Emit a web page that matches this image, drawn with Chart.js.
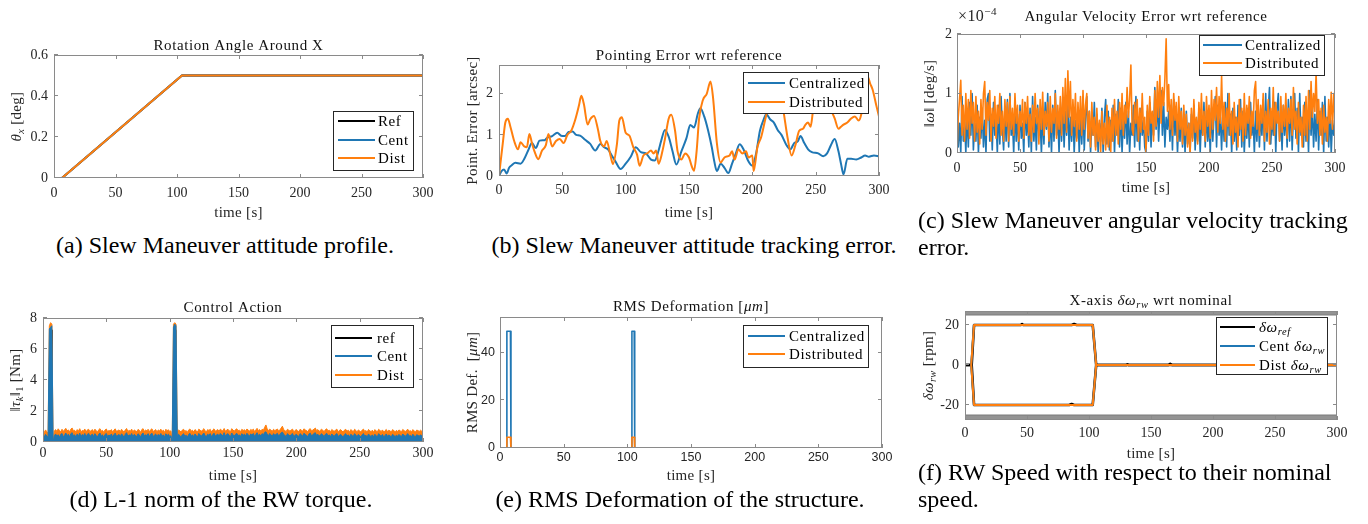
<!DOCTYPE html>
<html lang="en">
<head>
<meta charset="utf-8">
<title>Slew manoeuvre: centralized vs distributed control</title>
<script src="https://cdn.jsdelivr.net/npm/chart.js@4.4.1/dist/chart.umd.min.js"></script>
<style>
  html, body { margin: 0; padding: 0; background: #fff; }
  body { position: relative; width: 1368px; height: 524px; overflow: hidden;
         font-family: "Liberation Serif", "Times New Roman", serif; }
  canvas.plot { position: absolute; }
  .cap { position: absolute; font-size: 24px; line-height: 27px; color: #000; white-space: nowrap; }
  .cap.c { text-align: center; width: 600px; }
</style>
</head>
<body>
<canvas class="plot" id="figA"></canvas>
<canvas class="plot" id="figB"></canvas>
<canvas class="plot" id="figC"></canvas>
<canvas class="plot" id="figD"></canvas>
<canvas class="plot" id="figE"></canvas>
<canvas class="plot" id="figF"></canvas>

<div class="cap c" style="left:-75px;top:232px">(a) Slew Maneuver attitude profile.</div>
<div class="cap c" style="left:394px;top:232px">(b) Slew Maneuver attitude tracking error.</div>
<div class="cap" style="left:918px;top:207px">(c) Slew Maneuver angular velocity tracking<br>error.</div>
<div class="cap c" style="left:-79px;top:486px">(d) L-1 norm of the RW torque.</div>
<div class="cap c" style="left:380px;top:486px">(e) RMS Deformation of the structure.</div>
<div class="cap" style="left:918px;top:459px">(f) RW Speed with respect to their nominal<br>speed.</div>

<script>
// ---------------------------------------------------------------- data
const timeTicks = [0, 50, 100, 150, 200, 250, 300];

// (a) rotation angle about X [deg]
const angleTime = [0, 6.5, 104, 300];
const angleRef  = [0, 0, 0.5, 0.5];
const angleCent = [0, 0, 0.5, 0.5];
const angleDist = [0, 0, 0.5, 0.5];
const angleTicksY = [0, 0.2, 0.4, 0.6];

// (b) pointing error wrt reference [arcsec], [time, value]
const pointCent = [[0,0],[2,0.12],[4,0.16],[6,0.06],[8,0.2],[10,0.26],[13,0.32],[17,0.3],[20,0.42],[23,0.62],
  [26,0.8],[29,0.68],[32,0.86],[36,0.87],[38,0.93],[42,0.97],[46,1.05],[49,0.98],[52,0.97],[55,1.07],
  [58,1.08],[61,1.0],[64,0.98],[68,0.88],[72,0.78],[76,0.62],[80,0.78],[83,0.7],[86,0.65],[89,0.5],
  [92,0.35],[96,0.17],[100,0.3],[104,0.47],[108,0.7],[112,0.58],[116,0.55],[120,0.4],[123,0.38],[126,0.62],
  [128,0.85],[131,1.12],[134,0.95],[137,0.6],[140,0.28],[144,0.6],[148,0.92],[151,1.24],[154,1.18],[157,1.52],
  [159,1.65],[162,1.45],[165,1.12],[168,0.7],[170,0.35],[172,0.12],[175,0.3],[178,0.2],[181,0.07],[184,0.3],
  [187,0.55],[190,0.77],[193,0.65],[197,0.35],[200,0.25],[203,0.55],[206,1.1],[209,1.38],[211,1.5],[214,1.38],
  [217,1.3],[220,1.12],[223,1.0],[227,0.75],[230,0.65],[233,0.8],[236,0.85],[238,0.97],[241,0.8],[244,0.65],
  [247,0.58],[252,0.55],[256,0.48],[259,0.55],[262,0.75],[265,0.9],[268,0.6],[270,0.3],[272,0.04],[275,0.42],
  [278,0.42],[282,0.4],[286,0.45],[289,0.5],[292,0.47],[296,0.5],[300,0.48]];
const pointDist = [[0,0],[3,0.8],[5,1.3],[7,1.39],[9,1.2],[12,0.85],[15,0.65],[17,0.82],[20,0.72],[22,0.7],
  [24,1.02],[26,0.8],[28,0.6],[31,0.41],[34,0.62],[37,0.75],[39,1.02],[42,0.72],[45,0.85],[48,0.9],
  [51,0.8],[54,1.0],[57,1.1],[60,1.35],[63,1.7],[65,1.95],[67,1.75],[70,1.25],[72,1.38],[75,1.46],
  [78,1.15],[80,0.85],[83,0.72],[85,0.85],[88,0.5],[90,0.29],[93,0.75],[95,1.35],[97,1.43],[100,1.05],
  [103,0.98],[106,0.7],[109,0.52],[111,0.25],[114,0.5],[117,0.55],[120,0.62],[122,0.55],[124,0.62],[126,0.3],
  [129,0.6],[131,0.9],[134,1.4],[136,1.49],[139,1.1],[141,0.6],[144,0.4],[147,0.55],[150,0.45],[152,0.25],
  [154,0.13],[156,0.6],[158,1.4],[161,1.85],[164,2.0],[167,2.3],[169,1.9],[172,0.8],[175,0.33],[178,0.45],
  [182,0.5],[184,0.6],[186,0.4],[189,0.65],[192,0.55],[195,0.6],[197,0.45],[200,0.5],[201,0.12],[204,0.7],
  [207,0.95],[210,1.35],[213,1.75],[216,2.1],[219,2.3],[222,2.1],[225,1.5],[228,0.9],[231,0.5],[234,0.75],
  [237,1.1],[240,1.15],[242,1.25],[244,1.3],[246,1.2],[248,1.6],[251,1.9],[254,2.1],[257,1.95],[260,1.8],
  [263,1.55],[265,1.4],[268,1.15],[270,1.2],[272,1.25],[275,1.3],[278,1.4],[281,1.45],[284,1.35],[286,1.5],
  [288,1.9],[291,2.42],[293,2.25],[295,2.1],[298,1.7],[300,1.45]];
const pointTicksY = [0, 1, 2];

// (c) angular velocity error norm, in units of 1e-4 deg/s, one sample per second (t = 0..300)
const omegaErrCent = [
  0.9,0.1,0.5,0.0,0.95,0.2,0.6,0.0,0.7,0.1,0.85,0.3,1.0,0.05,0.5,0.2,0.8,0.0,0.6,0.25,
  0.75,0.1,0.55,0.0,0.9,1.0,0.2,0.65,0.05,0.85,0.3,0.6,0.0,0.8,0.15,0.95,0.4,0.05,0.7,0.2,
  0.9,0.1,1.0,0.3,0.55,0.0,0.75,0.2,0.65,0.05,0.8,0.25,0.5,0.0,0.85,0.3,0.6,0.1,0.75,0.0,
  0.95,0.2,0.6,0.05,0.8,0.3,0.55,0.0,0.7,0.15,0.85,0.4,1.0,0.1,0.65,0.0,0.8,0.2,1.05,0.3,
  0.6,0.0,0.75,0.2,0.9,0.1,0.7,0.3,0.85,0.05,0.6,0.2,0.8,0.0,0.55,0.25,0.7,0.0,0.65,0.15,
  0.8,0.05,0.6,0.95,0.2,0.7,0.0,0.55,0.3,0.85,0.1,0.65,0.0,0.5,0.2,0.75,0.0,0.6,0.9,0.15,
  0.7,0.05,0.55,0.2,0.8,0.0,0.65,0.3,0.9,0.1,0.75,0.0,0.6,0.25,0.85,0.15,0.7,0.0,0.5,0.3,
  0.8,0.1,0.95,0.2,0.6,0.05,0.75,0.3,0.55,0.1,0.0,0.7,0.2,0.85,0.1,0.65,0.3,1.1,0.4,0.9,
  0.2,0.75,1.05,0.3,0.85,0.1,0.6,0.4,0.7,0.2,0.8,0.05,0.9,0.3,0.65,0.0,0.55,0.2,0.75,0.1,
  0.6,0.0,0.7,0.15,0.5,0.0,0.65,0.25,0.8,0.05,0.55,0.2,0.75,0.0,0.6,0.3,0.85,0.1,0.7,0.2,
  0.55,0.0,0.75,0.2,0.65,0.95,0.1,0.8,0.3,0.6,0.05,0.7,0.2,0.85,0.1,1.0,0.3,0.65,0.0,0.75,
  0.2,0.6,0.05,0.8,0.3,0.9,0.1,0.7,0.0,0.55,0.25,0.75,0.1,0.85,0.3,0.6,0.0,0.7,0.2,0.8,
  0.1,0.65,0.3,0.9,0.05,1.0,0.2,0.7,1.1,0.15,0.6,0.3,0.85,0.0,0.75,1.0,0.2,0.6,0.05,0.8,
  0.3,0.7,0.1,0.9,0.2,0.95,0.05,0.65,1.0,0.25,0.75,0.0,1.0,0.3,0.6,0.1,0.85,0.2,0.7,0.0,
  1.05,0.3,0.8,0.1,0.65,0.2,0.9,0.05,0.7,0.3,0.85,0.0,0.95,0.2,0.6,0.1,0.75,0.0,0.55,0.3,
  0.55];
const omegaErrDist = [
  0.0,0.6,0.9,1.22,0.3,0.8,0.2,1.0,0.4,0.9,0.25,1.05,0.5,0.85,0.2,0.95,0.35,0.7,0.15,0.9,
  0.4,1.0,1.2,0.3,0.85,0.55,1.05,0.2,0.75,0.45,0.95,0.25,0.8,0.5,1.0,0.3,0.7,0.2,0.9,0.45,
  0.85,0.2,0.95,0.4,0.75,0.3,1.0,0.5,0.8,0.2,0.7,0.45,0.9,0.25,0.85,0.5,0.95,0.3,0.65,0.2,
  0.8,0.35,1.0,0.5,0.75,0.15,0.9,0.4,1.02,0.3,0.7,0.45,0.85,0.2,0.95,0.35,0.75,0.5,1.0,0.25,
  0.8,0.4,0.95,0.3,1.1,0.5,1.25,0.35,1.38,0.6,1.2,0.3,0.9,0.45,1.0,0.2,0.85,0.4,0.95,0.3,
  1.05,0.4,0.8,1.0,0.25,0.7,0.1,0.85,0.3,0.6,0.05,0.75,0.2,0.55,0.0,0.7,0.15,0.5,0.05,0.8,
  0.1,0.6,0.0,0.75,0.2,0.9,0.3,0.7,0.15,0.85,0.4,1.0,0.3,0.8,0.5,1.1,0.6,0.9,1.48,0.4,
  0.3,0.85,0.5,0.9,0.2,0.75,0.35,1.0,0.4,0.6,0.0,0.8,0.3,0.95,0.5,0.7,0.2,1.05,0.45,1.2,
  0.6,1.3,0.5,1.1,0.8,1.25,1.92,0.7,1.15,0.4,0.9,0.3,1.0,0.55,0.85,0.2,0.95,0.4,0.7,0.15,
  0.8,0.3,0.65,0.1,0.5,0.0,0.75,0.2,0.9,0.35,0.6,0.15,0.85,0.4,1.0,0.3,0.7,0.2,0.95,0.45,
  0.8,0.25,1.05,0.4,0.9,0.55,1.1,0.35,0.95,0.5,1.3,0.4,0.85,0.2,0.75,0.45,1.0,0.3,0.7,0.15,
  0.85,0.35,0.6,0.1,0.9,0.4,0.75,0.2,1.0,0.3,0.8,0.5,0.95,0.25,0.7,0.45,1.05,1.2,0.4,0.9,
  0.3,0.8,0.5,1.0,0.2,0.7,0.35,0.9,0.15,0.75,0.4,1.1,0.3,0.85,0.5,0.7,0.2,0.95,0.35,0.8,
  0.45,1.0,0.25,0.75,0.5,0.9,0.3,1.1,0.4,0.7,0.15,0.85,0.35,0.6,0.1,0.8,0.3,0.95,0.2,1.05,
  0.4,1.2,0.6,1.0,0.7,1.35,0.5,0.9,0.3,0.75,0.15,0.8,0.35,0.6,0.2,0.9,0.5,1.02,0.4,1.0,
  0.6];
const omegaTicksY = [0, 1, 2];

// (d) L-1 norm of the wheel torques [Nm], one sample per second (t = 0..300)
const torqueCent = [
  .45,.32,.50,.38,.30,7.3,7.4,7.5,0,.40,.52,.36,.47,.30,.49,.55,.34,.43,.58,.40,
  .50,.33,.54,.60,.39,.46,.31,.52,.37,.57,.34,.48,.41,.55,.32,.49,.56,.36,.44,.51,
  .35,.54,.42,.33,.50,.58,.38,.46,.30,.49,.55,.35,.45,.40,.52,.32,.47,.57,.37,.42,
  .49,.34,.53,.43,.30,.50,.60,.36,.46,.40,.55,.33,.49,.42,.35,.53,.46,.31,.50,.58,
  .38,.47,.41,.54,.34,.50,.57,.36,.44,.52,.33,.49,.40,.55,.37,.46,.31,.53,.42,.50,
  .36,.40,0,7.4,7.6,7.5,.34,.50,.42,.33,.47,.54,.36,.44,.30,.49,.56,.38,.46,.35,
  .52,.42,.33,.55,.46,.37,.49,.58,.40,.35,.50,.43,.54,.34,.47,.57,.38,.45,.51,.36,
  .55,.46,.40,.60,.37,.49,.54,.42,.34,.58,.47,.38,.50,.56,.41,.46,.36,.54,.43,.50,
  .40,.56,.47,.37,.52,.44,.55,.36,.49,.60,.42,.50,.38,.54,.46,.62,.66,.50,.42,.55,
  .46,.37,.54,.43,.49,.56,.40,.47,.59,.64,.50,.42,.36,.54,.46,.38,.49,.55,.35,.44,
  .50,.40,.36,.54,.46,.38,.56,.49,.43,.35,.52,.57,.40,.47,.55,.60,.42,.50,.37,.46,
  .54,.43,.36,.50,.56,.39,.46,.34,.52,.42,.37,.49,.55,.35,.44,.50,.39,.33,.47,.54,
  .38,.46,.32,.50,.42,.36,.54,.44,.35,.49,.39,.33,.47,.55,.37,.43,.34,.52,.40,.36,
  .46,.32,.50,.39,.35,.54,.43,.37,.49,.33,.41,.52,.36,.46,.39,.34,.50,.42,.35,.44,
  .37,.49,.40,.34,.52,.43,.36,.46,.54,.38,.42,.35,.50,.39,.33,.47,.43,.37,.46,.40,
  .35];
const torqueDist = [
  .70,.62,.78,.66,.55,7.5,7.7,7.6,0,.72,.80,.68,.85,.74,.66,.82,.70,.77,.88,.72,
  .78,.65,.83,.90,.72,.76,.62,.80,.70,.86,.66,.75,.71,.84,.64,.78,.82,.68,.73,.80,
  .66,.83,.72,.64,.79,.86,.70,.75,.62,.78,.84,.67,.74,.71,.80,.63,.77,.85,.69,.73,
  .78,.66,.82,.73,.62,.79,.87,.68,.75,.70,.83,.64,.78,.72,.67,.81,.76,.62,.80,.86,
  .69,.77,.72,.82,.66,.79,.85,.68,.74,.80,.64,.78,.71,.83,.69,.76,.62,.82,.73,.79,
  .68,.72,0,7.6,7.7,7.6,.66,.78,.73,.64,.77,.82,.68,.74,.62,.78,.84,.70,.76,.66,
  .80,.73,.64,.83,.76,.69,.78,.86,.71,.66,.80,.74,.82,.65,.77,.85,.70,.75,.80,.68,
  .83,.76,.71,.87,.69,.78,.82,.73,.66,.86,.77,.70,.80,.85,.72,.76,.68,.82,.74,.79,
  .71,.84,.77,.69,.81,.75,.83,.68,.78,.88,.73,.80,.70,.82,.76,.95,1.10,.84,.74,.83,
  .76,.69,.82,.74,.78,.84,.71,.77,.90,1.02,.80,.73,.68,.82,.76,.70,.78,.83,.66,.75,
  .80,.72,.67,.82,.76,.70,.85,.78,.74,.66,.81,.86,.71,.77,.83,.90,.73,.80,.68,.76,
  .82,.74,.67,.80,.85,.71,.76,.65,.81,.73,.69,.78,.83,.66,.75,.80,.71,.64,.77,.82,
  .70,.76,.63,.80,.73,.67,.82,.75,.66,.78,.71,.64,.77,.83,.68,.74,.65,.81,.72,.67,
  .76,.63,.80,.71,.66,.82,.74,.68,.78,.64,.73,.81,.67,.76,.71,.65,.80,.73,.66,.75,
  .68,.78,.72,.65,.81,.74,.67,.76,.82,.69,.73,.66,.80,.71,.64,.77,.74,.68,.76,.70,
  .66];
const torqueRef = [[0,0],[5.4,0],[5.8,7.2],[6.6,7.2],[7,0],[103.4,0],[103.8,7.2],[104.6,7.2],[105,0],[300,0]];
const torqueTicksY = [0, 2, 4, 6, 8];

// (e) RMS deformation [um]
const defTime = [0, 5.0, 5.4, 8.2, 8.6, 103.2, 103.6, 105.4, 105.8, 300];
const defCent = [0, 0, 49, 49, 0, 0, 49, 49, 0, 0];
const defDist = [0, 0, 4.5, 4.5, 0, 0, 4.5, 4.5, 0, 0];
const defTicksY = [0, 20, 40];

// (f) X-axis wheel speed deviation wrt nominal [rpm], two wheels (up / down)
const rwRefUp   = [[0,0],[5.4,0],[7.3,20],[45,20],[46,20.5],[47,20],[86,20],[88,20.5],[90,20],[103,20],[105.8,0],
                   [130,0],[131,0.3],[132,0],[164,0],[165.5,0.6],[167,0],[300,0]];
const rwRefDown = [[0,0],[5.4,0],[7.3,-20],[84,-20],[86,-19.5],[88,-20],[103,-20],[105.8,0],[300,0]];
const rwCentUp   = [[5,0],[5.4,0],[7.3,20],[103,20],[105.8,0],[300,0]];
const rwCentDown = [[5,0],[5.4,0],[7.3,-20],[103,-20],[105.8,0],[300,0]];
const rwDistUp   = [[5,0],[5.4,0],[7.3,20],[103,20],[105.8,0],[300,0]];
const rwDistDown = [[5,0],[5.4,0],[7.3,-20],[103,-20],[105.8,0],[300,0]];
const rwSaturation = 25;
const rwTicksY = [-20, 0, 20];

// ---------------------------------------------------------------- style
const BLUE = '#1f77b4', ORANGE = '#ff7f0e', BLACK = '#000000';
const SERIF = '"Liberation Serif", "Times New Roman", serif';
const SANS  = '"Liberation Sans", Arial, sans-serif';
const AXIS_GRAY = '#8a8a8a', TEXT_GRAY = '#262626', TICK = 4;

const fromPairs  = p => p.map(([x, y]) => ({ x, y }));
const fromXY     = (xs, ys) => xs.map((x, i) => ({ x, y: ys[i] }));
const perSecond  = v => v.map((y, i) => ({ x: i, y }));

// draws text made of [string, style] pieces: style 'i' italic, 'b' subscript, 'p' superscript
function drawRich(ctx, spec, x, y, size, o = {}) {
  const segs = typeof spec === 'string' ? [[spec, '']] : spec;
  const family = o.family || SERIF;
  ctx.save();
  ctx.fillStyle = o.color || '#000';
  ctx.textAlign = 'left';
  ctx.textBaseline = 'alphabetic';
  if ('letterSpacing' in ctx) ctx.letterSpacing = (o.ls ?? 0.5) + 'px';
  const parts = segs.map(([t, st = '']) => {
    const small = st.includes('b') || st.includes('p');
    const fs = small ? size * 0.7 : size;
    const font = (st.includes('i') ? 'italic ' : '') + fs + 'px ' + family;
    ctx.font = font;
    return { t, font, w: ctx.measureText(t).width,
             dy: st.includes('b') ? size * 0.22 : st.includes('p') ? -size * 0.42 : 0 };
  });
  const total = parts.reduce((s, p) => s + p.w, 0);
  let cx = o.align === 'left' ? x : o.align === 'right' ? x - total : x - total / 2;
  const base = y + size * 0.33;
  for (const p of parts) { ctx.font = p.font; ctx.fillText(p.t, cx, base + p.dy); cx += p.w; }
  ctx.restore();
}

// MATLAB-like axes: box, inward ticks on four sides, labels, title, boxed legend
function axesPlugin(o) {
  return {
    id: 'matlabAxes',
    afterDatasetsDraw(chart) {
      const ctx = chart.ctx, a = chart.chartArea, xs = chart.scales.x, ys = chart.scales.y;
      ctx.save();
      ctx.strokeStyle = AXIS_GRAY; ctx.lineWidth = 1;
      ctx.strokeRect(a.left + 0.5, a.top + 0.5, a.right - a.left - 1, a.bottom - a.top - 1);
      ctx.beginPath();
      for (const t of xs.ticks) {
        const px = Math.round(xs.getPixelForValue(t.value)) + 0.5;
        ctx.moveTo(px, a.bottom); ctx.lineTo(px, a.bottom - TICK);
        ctx.moveTo(px, a.top); ctx.lineTo(px, a.top + TICK);
      }
      for (const t of ys.ticks) {
        const py = Math.round(ys.getPixelForValue(t.value)) - 0.5;
        ctx.moveTo(a.left, py); ctx.lineTo(a.left + TICK, py);
        ctx.moveTo(a.right, py); ctx.lineTo(a.right - TICK, py);
      }
      ctx.stroke();

      // tick labels
      ctx.fillStyle = TEXT_GRAY;
      ctx.font = o.tickFont;
      ctx.textBaseline = 'middle';
      ctx.textAlign = 'center';
      for (const t of xs.ticks) ctx.fillText(String(t.value), xs.getPixelForValue(t.value), a.bottom + o.xTickGap);
      ctx.textAlign = 'right';
      for (const t of ys.ticks) ctx.fillText(String(t.value), a.left - o.yTickGap, ys.getPixelForValue(t.value));

      // axis titles and plot title
      const midX = (a.left + a.right) / 2, midY = (a.top + a.bottom) / 2;
      drawRich(ctx, o.xTitle, midX, a.bottom + o.xTitleGap, 15, { color: TEXT_GRAY, ls: 0.3 });
      ctx.save();
      ctx.translate(a.left - o.yTitleGap, midY);
      ctx.rotate(-Math.PI / 2);
      drawRich(ctx, o.yTitle, 0, 0, 15, { color: TEXT_GRAY, ls: 0.3 });
      ctx.restore();
      drawRich(ctx, o.title, midX, a.top - o.titleGap, 15, { color: '#111', ls: 0.6 });
      if (o.exponent) drawRich(ctx, o.exponent, a.left + 1, a.top - o.titleGap, 16, { align: 'left', color: TEXT_GRAY, ls: 0.4 });

      // legend
      const L = o.legend;
      if (L) {
        const bx = Math.round(a.right - L.right - L.w), by = Math.round(a.top + L.top);
        ctx.fillStyle = '#fff';
        ctx.fillRect(bx, by, L.w, L.h);
        ctx.strokeStyle = '#262626'; ctx.lineWidth = 1;
        ctx.strokeRect(bx + 0.5, by + 0.5, L.w, L.h);
        L.items.forEach((it, i) => {
          const y = by + L.rows[i];
          ctx.strokeStyle = chart.data.datasets[it.ds].borderColor;
          ctx.lineWidth = 2;
          ctx.beginPath(); ctx.moveTo(bx + L.s0, y); ctx.lineTo(bx + L.s1, y); ctx.stroke();
          drawRich(ctx, it.text, bx + L.tx, y, 15, { align: 'left', color: '#000', ls: 0.6 });
        });
      }
      ctx.restore();
    }
  };
}

function makeChart(id, frame, datasets, o) {
  const cv = document.getElementById(id);
  const W = frame.R - frame.L, H = frame.B - frame.T;
  cv.width = W + 90; cv.height = H + 90;
  cv.style.left = (frame.L - 70) + 'px';
  cv.style.top = (frame.T - 45) + 'px';
  cv.style.width = cv.width + 'px';
  cv.style.height = cv.height + 'px';
  return new Chart(cv, {
    type: 'line',
    data: { datasets },
    options: {
      responsive: false, animation: false, events: [],
      layout: { padding: { left: 0, top: 45, right: 20, bottom: 0 } },
      elements: { point: { radius: 0 }, line: { tension: 0, borderJoinStyle: 'round' } },
      scales: {
        x: { type: 'linear', min: 0, max: 300,
             ticks: { display: false }, grid: { display: false }, border: { display: false },
             afterBuildTicks: s => { s.ticks = timeTicks.map(v => ({ value: v })); },
             afterFit: s => { s.height = 45; } },
        y: { type: 'linear', min: o.yMin, max: o.yMax,
             ticks: { display: false }, grid: { display: false }, border: { display: false },
             afterBuildTicks: s => { s.ticks = o.yTicks.map(v => ({ value: v })); },
             afterFit: s => { s.width = 70; } }
      },
      plugins: { legend: { display: false }, tooltip: { enabled: false } }
    },
    plugins: [axesPlugin(o)]
  });
}

const line = (data, color, width, order, extra = {}) =>
  Object.assign({ data, borderColor: color, backgroundColor: color, borderWidth: width, order, fill: false }, extra);

const serifTicks = '14px ' + SERIF;
const timeLabel = 'time [s]';

// (a)
makeChart('figA', { L: 54, T: 55, R: 423, B: 178 }, [
  line(fromXY(angleTime, angleRef), BLACK, 2, 2),
  line(fromXY(angleTime, angleCent), BLUE, 2, 1),
  line(fromXY(angleTime, angleDist), ORANGE, 2, 0)
], {
  yMin: 0, yMax: 0.6, yTicks: angleTicksY, tickFont: serifTicks,
  xTickGap: 15, xTitleGap: 34, yTickGap: 6, yTitleGap: 38, titleGap: 10,
  title: 'Rotation Angle Around X', xTitle: timeLabel,
  yTitle: [['θ', 'i'], ['x', 'ib'], [' [deg]', '']],
  legend: { right: 10, top: 56, w: 80, h: 59, rows: [10, 29, 47], s0: 5, s1: 42, tx: 45,
            items: [{ ds: 0, text: 'Ref' }, { ds: 1, text: 'Cent' }, { ds: 2, text: 'Dist' }] }
});

// (b)
makeChart('figB', { L: 499, T: 65, R: 879, B: 176 }, [
  line(fromPairs(pointCent), BLUE, 2, 1, { cubicInterpolationMode: 'monotone' }),
  line(fromPairs(pointDist), ORANGE, 2, 0, { cubicInterpolationMode: 'monotone' })
], {
  yMin: 0, yMax: 2.7, yTicks: pointTicksY, tickFont: serifTicks,
  xTickGap: 14, xTitleGap: 36, yTickGap: 6, yTitleGap: 27, titleGap: 10,
  title: 'Pointing Error wrt reference', xTitle: timeLabel, yTitle: 'Point. Error [arcsec]',
  legend: { right: 11, top: 7, w: 125, h: 41, rows: [11, 30], s0: 5, s1: 42, tx: 46,
            items: [{ ds: 0, text: 'Centralized' }, { ds: 1, text: 'Distributed' }] }
});

// (c)
makeChart('figC', { L: 957, T: 34, R: 1335, B: 153 }, [
  line(perSecond(omegaErrCent), BLUE, 1.6, 1),
  line(perSecond(omegaErrDist), ORANGE, 1.6, 0)
], {
  yMin: 0, yMax: 2, yTicks: omegaTicksY, tickFont: serifTicks,
  xTickGap: 15, xTitleGap: 34, yTickGap: 5, yTitleGap: 28, titleGap: 18,
  title: 'Angular Velocity Error wrt reference', xTitle: timeLabel,
  yTitle: [['‖', ''], ['ω', 'i'], ['‖ [deg/s]', '']],
  exponent: [['×10', ''], ['−4', 'p']],
  legend: { right: 11, top: 1, w: 125, h: 40, rows: [10, 28], s0: 4, s1: 43, tx: 46,
            items: [{ ds: 0, text: 'Centralized' }, { ds: 1, text: 'Distributed' }] }
});

// (d)
makeChart('figD', { L: 43, T: 318, R: 423, B: 442 }, [
  line(fromPairs(torqueRef), BLACK, 2, 2),
  line(perSecond(torqueCent), BLUE, 1, 0, { fill: 'origin' }),
  line(perSecond(torqueDist), ORANGE, 1, 1, { fill: 'origin' })
], {
  yMin: 0, yMax: 8, yTicks: torqueTicksY, tickFont: serifTicks,
  xTickGap: 11, xTitleGap: 33, yTickGap: 6, yTitleGap: 28, titleGap: 11,
  title: 'Control Action', xTitle: timeLabel,
  yTitle: [['‖', ''], ['τ', 'i'], ['k', 'ib'], ['‖', ''], ['1', 'b'], [' [Nm]', '']],
  legend: { right: 10, top: 7, w: 82, h: 62, rows: [13, 31, 50], s0: 4, s1: 41, tx: 46,
            items: [{ ds: 0, text: 'ref' }, { ds: 1, text: 'Cent' }, { ds: 2, text: 'Dist' }] }
});

// (e)
makeChart('figE', { L: 500, T: 317, R: 882, B: 448 }, [
  line(fromXY(defTime, defCent), BLUE, 1.6, 1),
  line(fromXY(defTime, defDist), ORANGE, 1.6, 0)
], {
  yMin: 0, yMax: 55, yTicks: defTicksY, tickFont: '12.5px ' + SANS,
  xTickGap: 10, xTitleGap: 27, yTickGap: 5, yTitleGap: 28, titleGap: 11,
  title: [['RMS Deformation [', ''], ['μm', 'i'], [']', '']], xTitle: timeLabel,
  yTitle: [['RMS Def.  [', ''], ['μm', 'i'], [']', '']],
  legend: { right: 14, top: 8, w: 125, h: 42, rows: [11, 29], s0: 5, s1: 42, tx: 46,
            items: [{ ds: 0, text: 'Centralized' }, { ds: 1, text: 'Distributed' }] }
});

// (f)
const satUp = [{ x: 0, y: rwSaturation }, { x: 300, y: rwSaturation }];
const satDown = [{ x: 0, y: -rwSaturation }, { x: 300, y: -rwSaturation }];
makeChart('figF', { L: 965, T: 311, R: 1337, B: 420 }, [
  line(fromPairs(rwRefUp), BLACK, 2.6, 3),
  line(fromPairs(rwCentUp), BLUE, 2, 2),
  line(fromPairs(rwDistUp), ORANGE, 2, 0),
  line(fromPairs(rwRefDown), BLACK, 2.6, 3),
  line(fromPairs(rwCentDown), BLUE, 2, 2),
  line(fromPairs(rwDistDown), ORANGE, 2, 0),
  line(satUp, '#7a7a7a', 1, 5, { fill: 'end', backgroundColor: '#939393' }),
  line(satDown, '#7a7a7a', 1, 5, { fill: 'start', backgroundColor: '#939393' })
], {
  yMin: -27.5, yMax: 27, yTicks: rwTicksY, tickFont: serifTicks,
  xTickGap: 13, xTitleGap: 33, yTickGap: 6, yTitleGap: 37, titleGap: 11,
  title: [['X-axis ', ''], ['δω', 'i'], ['rw', 'ib'], [' wrt nominal', '']], xTitle: timeLabel,
  yTitle: [['δω', 'i'], ['rw', 'ib'], [' [rpm]', '']],
  legend: { right: 10, top: 6, w: 111, h: 57, rows: [10, 29, 48], s0: 4, s1: 39, tx: 43,
            items: [{ ds: 0, text: [['δω', 'i'], ['ref', 'ib']] },
                    { ds: 1, text: [['Cent ', ''], ['δω', 'i'], ['rw', 'ib']] },
                    { ds: 2, text: [['Dist ', ''], ['δω', 'i'], ['rw', 'ib']] }] }
});
</script>
</body>
</html>
